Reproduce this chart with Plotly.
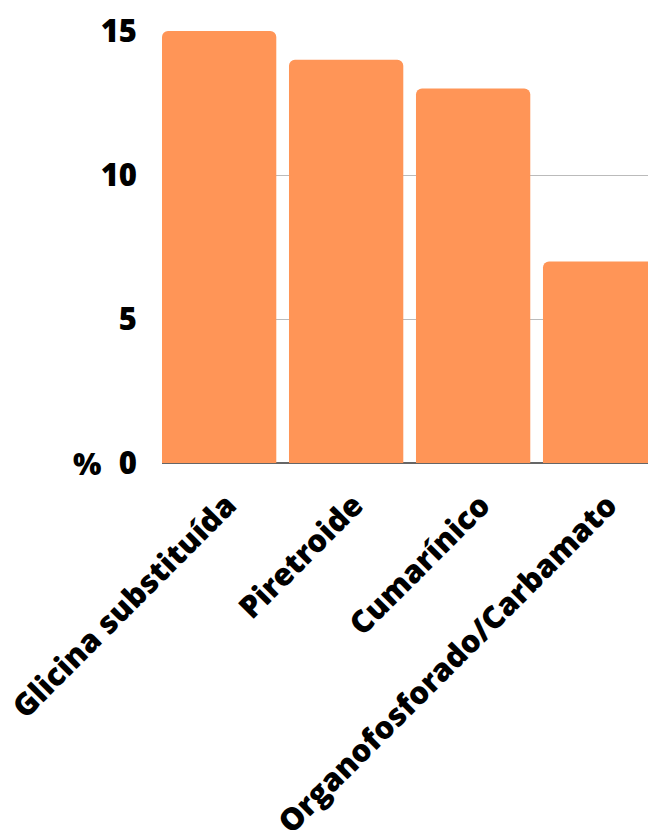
import plotly.graph_objects as go

categories = ["Glicina substituída", "Piretroide", "Cumarínico", "Organofosforado/Carbamato"]
values = [15, 14, 13, 7]
y_ticks = [0, 5, 10, 15]

FONT = "Open Sans ExtraBold, Open Sans"
COLOR = "#FF9557"

fig = go.Figure(
    go.Bar(
        x=list(range(len(categories))),
        y=values,
        marker=dict(color=COLOR, cornerradius=6, line=dict(width=0)),
        hoverinfo="skip",
    )
)

fig.update_layout(
    width=648,
    height=830,
    margin=dict(l=162, r=0, t=31, b=367, autoexpand=False),
    paper_bgcolor="white",
    plot_bgcolor="white",
    bargap=0.1,
    showlegend=False,
    font=dict(family=FONT, color="black", size=29, weight=800),
)

fig.update_xaxes(
    range=[-0.45, 3.377],
    tickmode="array",
    tickvals=list(range(len(categories))),
    ticktext=categories,
    tickangle=-45,
    tickfont=dict(family=FONT, size=31, color="black", weight=800),
    showgrid=False,
    showline=False,
    zeroline=False,
    ticks="",
    ticklabelstandoff=17,
    ticklabelshift=8,
    automargin=False,
)

fig.update_yaxes(
    range=[0, 15],
    tickmode="array",
    tickvals=y_ticks,
    ticktext=[str(v) for v in y_ticks],
    tickfont=dict(family=FONT, size=31, color="black", weight=800),
    showgrid=True,
    gridcolor="#BBBBBB",
    gridwidth=1,
    zeroline=True,
    zerolinecolor="#666666",
    zerolinewidth=2,
    showline=False,
    ticks="",
    ticklabelstandoff=24,
    automargin=False,
)

fig.add_annotation(
    text="%",
    xref="paper",
    yref="y",
    x=(87 - 162) / 486,
    y=0,
    showarrow=False,
    font=dict(family=FONT, size=30, color="black", weight=800),
    xanchor="center",
    yanchor="middle",
)

fig.write_html("out.html")
